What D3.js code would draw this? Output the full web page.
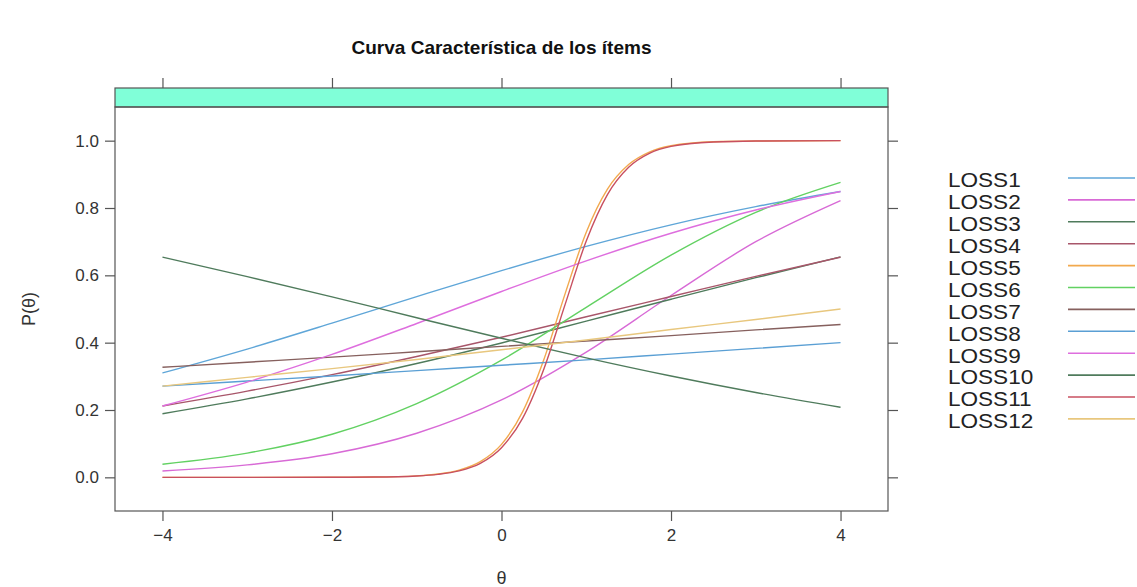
<!DOCTYPE html>
<html>
<head>
<meta charset="utf-8">
<script src="https://cdn.jsdelivr.net/npm/d3@7"></script>
<style>
  html, body { margin: 0; padding: 0; background: #fff; }
  svg { display: block; }
  text { font-family: "Liberation Sans", Arial, Helvetica, sans-serif; }
</style>
</head>
<body>
<svg id="chart" width="1137" height="587"></svg>
<script>
// ---- data ----
const items = ["LOSS1","LOSS2","LOSS3","LOSS4","LOSS5","LOSS6","LOSS7","LOSS8","LOSS9","LOSS10","LOSS11","LOSS12"];
const theta = [-4,-3,-2,-1,0,1,2,3,4];
const thetaSteep = [-4,-3,-2,-1.5,-1,-0.75,-0.5,-0.25,0,0.25,0.5,0.75,1,1.25,1.5,1.75,2,2.5,3,4];

const loss1  = [0.310,0.381,0.458,0.537,0.614,0.686,0.750,0.804,0.849];
const loss2  = [0.019,0.037,0.070,0.131,0.230,0.372,0.540,0.700,0.822];
const loss3  = [0.189,0.233,0.283,0.338,0.399,0.464,0.529,0.593,0.655];
const loss4  = [0.212,0.256,0.305,0.359,0.416,0.477,0.537,0.597,0.654];
const loss5  = [0.000,0.000,0.0002,0.0009,0.0044,0.0098,0.0215,0.0467,0.098,0.195,0.350,0.545,0.728,0.856,0.929,0.967,0.985,0.997,0.999,1.000];
const loss6  = [0.039,0.072,0.128,0.219,0.348,0.505,0.660,0.787,0.876];
const loss7  = [0.327,0.342,0.357,0.373,0.389,0.405,0.421,0.438,0.454];
const loss8  = [0.271,0.286,0.301,0.317,0.333,0.349,0.366,0.383,0.400];
const loss9  = [0.212,0.283,0.365,0.457,0.552,0.643,0.725,0.794,0.849];
const loss10 = [0.654,0.596,0.536,0.474,0.413,0.355,0.301,0.252,0.208];
const loss11 = [0.000,0.000,0.0002,0.0008,0.0040,0.0087,0.0190,0.0414,0.088,0.176,0.322,0.513,0.702,0.840,0.921,0.963,0.983,0.996,0.999,1.000];
const loss12 = [0.271,0.297,0.323,0.350,0.379,0.408,0.439,0.469,0.500];

const xTicks = [-4,-2,0,2,4];
const yTicks = [0.0,0.2,0.4,0.6,0.8,1.0];

const colors = ["#5fa6d8","#d86ad6","#4f7b5c","#a8566a","#f2a94e","#62d162",
                "#86605e","#5a9fd4","#de6ede","#4f7b5c","#c85060","#e8c77e"];

// ---- build series ----
const seriesValues = [loss1,loss2,loss3,loss4,loss5,loss6,loss7,loss8,loss9,loss10,loss11,loss12];
const series = items.map((name, i) => {
  const vals = seriesValues[i];
  const th = vals.length === thetaSteep.length ? thetaSteep : theta;
  return { name, color: colors[i], points: th.map((t, j) => ({ t, p: vals[j] })) };
});

// ---- layout ----
const svg = d3.select("#chart");
const panel = { left: 115, right: 888, top: 107, bottom: 511 };
const stripTop = 88;

const x = d3.scaleLinear().domain([-4.56, 4.56]).range([panel.left, panel.right]);
const y = d3.scaleLinear().domain([-0.1, 1.1]).range([panel.bottom, panel.top]);

// title
svg.append("text")
  .attr("x", (panel.left + panel.right) / 2).attr("y", 54)
  .attr("text-anchor", "middle")
  .attr("font-size", 19).attr("font-weight", "bold").attr("fill", "#111")
  .text("Curva Característica de los ítems");

// strip
svg.append("rect")
  .attr("x", panel.left).attr("y", stripTop)
  .attr("width", panel.right - panel.left).attr("height", panel.top - stripTop)
  .attr("fill", "#80ffd8").attr("stroke", "#555").attr("stroke-width", 1.2);

// curves (clipped to panel)
svg.append("clipPath").attr("id", "clip").append("rect")
  .attr("x", panel.left).attr("y", panel.top)
  .attr("width", panel.right - panel.left).attr("height", panel.bottom - panel.top);

const line = d3.line().x(d => x(d.t)).y(d => y(d.p)).curve(d3.curveMonotoneX);
svg.append("g").attr("clip-path", "url(#clip)")
  .selectAll("path").data(series).join("path")
  .attr("d", d => line(d.points))
  .attr("fill", "none")
  .attr("stroke", d => d.color)
  .attr("stroke-width", 1.4);

// panel border
svg.append("rect")
  .attr("x", panel.left).attr("y", panel.top)
  .attr("width", panel.right - panel.left).attr("height", panel.bottom - panel.top)
  .attr("fill", "none").attr("stroke", "#555").attr("stroke-width", 1.2);

// axes
const axisStyle = g => {
  g.select(".domain").remove();
  g.selectAll(".tick line").attr("stroke", "#555").attr("stroke-width", 1.2);
  g.selectAll(".tick text").attr("fill", "#333")
    .attr("font-family", "'Liberation Sans', Arial, sans-serif");
};

svg.append("g").attr("transform", `translate(0,${panel.bottom})`)
  .call(d3.axisBottom(x).tickValues(xTicks).tickSize(10).tickPadding(8)
        .tickFormat(d => d < 0 ? "\u2212" + Math.abs(d) : d))
  .call(axisStyle)
  .call(g => g.selectAll(".tick text").attr("font-size", 17));

svg.append("g").attr("transform", `translate(0,${stripTop})`)
  .call(d3.axisTop(x).tickValues(xTicks).tickSize(10).tickFormat(""))
  .call(axisStyle);

svg.append("g").attr("transform", `translate(${panel.left},0)`)
  .call(d3.axisLeft(y).tickValues(yTicks).tickSize(10).tickPadding(6).tickFormat(d3.format(".1f")))
  .call(axisStyle)
  .call(g => g.selectAll(".tick text").attr("font-size", 17));

svg.append("g").attr("transform", `translate(${panel.right},0)`)
  .call(d3.axisRight(y).tickValues(yTicks).tickSize(10).tickFormat(""))
  .call(axisStyle);

// axis labels
svg.append("text")
  .attr("x", (panel.left + panel.right) / 2).attr("y", 584)
  .attr("text-anchor", "middle").attr("font-size", 18).attr("fill", "#333")
  .text("θ");

svg.append("text")
  .attr("transform", `translate(35,${(panel.top + panel.bottom) / 2}) rotate(-90)`)
  .attr("text-anchor", "middle").attr("font-size", 18).attr("fill", "#333")
  .text("P(θ)");

// legend
const legend = svg.append("g");
const rowY = i => 180 + i * 21.9;
legend.selectAll("text").data(series).join("text")
  .attr("x", 948).attr("y", (d, i) => rowY(i))
  .attr("dy", "0.36em")
  .attr("font-size", 20.5).attr("fill", "#222")
  .text(d => d.name)
  .each(function () {
    const w = this.getComputedTextLength();
    d3.select(this).attr("textLength", w * 1.1).attr("lengthAdjust", "spacingAndGlyphs");
  });
legend.selectAll("line").data(series).join("line")
  .attr("x1", 1068).attr("x2", 1135)
  .attr("y1", (d, i) => rowY(i) - 2).attr("y2", (d, i) => rowY(i) - 2)
  .attr("stroke", d => d.color).attr("stroke-width", 1.6);
</script>
</body>
</html>
